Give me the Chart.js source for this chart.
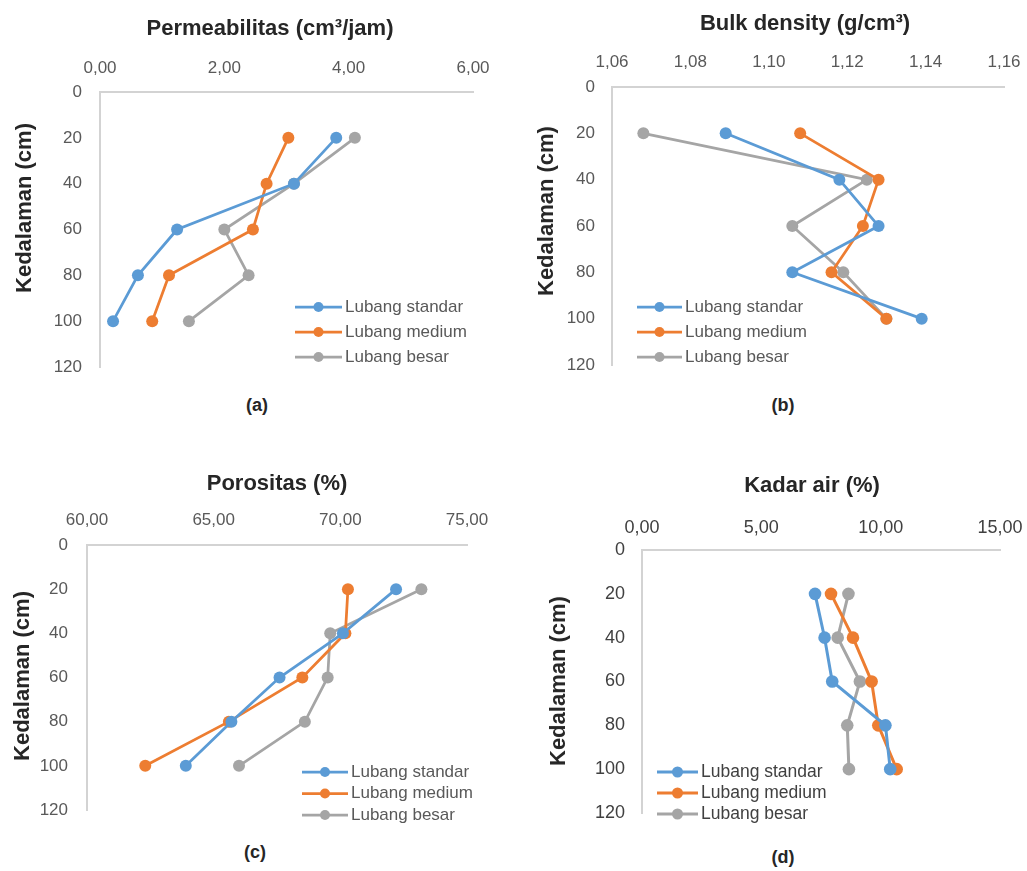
<!DOCTYPE html>
<html>
<head>
<meta charset="utf-8">
<script src="https://cdn.jsdelivr.net/npm/chart.js@4.4.1/dist/chart.umd.min.js"></script>
<style>
  body { margin: 0; background: #fff; width: 1027px; height: 871px; position: relative; overflow: hidden;
         font-family: "Liberation Sans", Arial, sans-serif; }
  canvas { position: absolute; }
  .t { position: absolute; transform: translate(-50%, -50%); white-space: nowrap; font-weight: bold; color: #262626; }
  .title { font-size: 22px; }
  .ytitle { font-size: 22px; transform: translate(-50%, -50%) rotate(-90deg); }
  .cap { font-size: 18px; }
</style>
</head>
<body>
<canvas id="ca" width="505" height="390" style="left:0;top:0"></canvas>
<canvas id="cb" width="517" height="390" style="left:510px;top:0"></canvas>
<canvas id="cc" width="505" height="395" style="left:0;top:440px"></canvas>
<canvas id="cd" width="507" height="380" style="left:520px;top:460px"></canvas>

<div class="t title" style="left:270px;top:28px">Permeabilitas (cm³/jam)</div>
<div class="t title" style="left:805px;top:23px">Bulk density (g/cm³)</div>
<div class="t title" style="left:277px;top:483px">Porositas (%)</div>
<div class="t title" style="left:812px;top:485px">Kadar air (%)</div>

<div class="t ytitle" style="left:24px;top:208px">Kedalaman (cm)</div>
<div class="t ytitle" style="left:546px;top:211px">Kedalaman (cm)</div>
<div class="t ytitle" style="left:22px;top:676px">Kedalaman (cm)</div>
<div class="t ytitle" style="left:558px;top:681px">Kedalaman (cm)</div>

<div class="t cap" style="left:257px;top:405px">(a)</div>
<div class="t cap" style="left:783px;top:405px">(b)</div>
<div class="t cap" style="left:255px;top:852px">(c)</div>
<div class="t cap" style="left:783px;top:857px">(d)</div>

<script>
// kedalaman (cm)
const depth = [20, 40, 60, 80, 100];
const seriesNames = ["Lubang standar", "Lubang medium", "Lubang besar"];
const colors = ["#5B9BD5", "#ED7D31", "#A5A5A5"];

// (a) permeabilitas
const permStandar = [3.80, 3.12, 1.24, 0.61, 0.21];
const permMedium = [3.03, 2.68, 2.46, 1.11, 0.84];
const permBesar = [4.10, 3.12, 2.00, 2.39, 1.43];

// (b) bulk density
const bulkStandar = [1.089, 1.118, 1.128, 1.106, 1.139];
const bulkMedium = [1.108, 1.128, 1.124, 1.116, 1.130];
const bulkBesar = [1.068, 1.125, 1.106, 1.119, 1.130];

// (c) porositas
const poroStandar = [72.2, 70.1, 67.6, 65.7, 63.9];
const poroMedium = [70.3, 70.2, 68.5, 65.6, 62.3];
const poroBesar = [73.2, 69.6, 69.5, 68.6, 66.0];

// (d) kadar air
const airStandar = [7.25, 7.65, 7.97, 10.2, 10.4];
const airMedium = [7.92, 8.84, 9.62, 9.9, 10.67];
const airBesar = [8.65, 8.2, 9.13, 8.6, 8.67];

Chart.defaults.font.family = '"Liberation Sans", Arial, sans-serif';

// legend drawn inside the plot area, reads labels/colours from the datasets
const insideLegend = {
    id: "insideLegend",
    afterDatasetsDraw(chart, args, opts) {
        const ctx = chart.ctx;
        ctx.save();
        ctx.font = opts.font;
        ctx.textBaseline = "middle";
        ctx.textAlign = "left";
        chart.data.datasets.forEach((ds, i) => {
            const y = opts.y + i * opts.rowH;
            ctx.strokeStyle = ds.borderColor;
            ctx.lineWidth = ds.borderWidth;
            ctx.beginPath();
            ctx.moveTo(opts.x, y);
            ctx.lineTo(opts.x + opts.len, y);
            ctx.stroke();
            ctx.fillStyle = ds.backgroundColor;
            ctx.beginPath();
            ctx.arc(opts.x + opts.len / 2, y, opts.r, 0, Math.PI * 2);
            ctx.fill();
            ctx.fillStyle = opts.color;
            ctx.fillText(ds.label, opts.x + opts.len + opts.gap, y);
        });
        ctx.restore();
    },
};

function fmt2(v) {
    return Number(v).toFixed(2).replace(".", ",");
}

function makePanel(id, p) {
    const datasets = p.series.map((vals, i) => ({
        label: seriesNames[i],
        data: depth.map((d, k) => ({ x: vals[k], y: d })),
        showLine: true,
        borderColor: colors[i],
        backgroundColor: colors[i],
        borderWidth: p.lineW,
        pointRadius: p.pointR,
        pointBorderWidth: 0,
    }));
    const tickFont = { size: p.tickSize };
    return new Chart(document.getElementById(id), {
        type: "scatter",
        data: { datasets },
        plugins: [insideLegend],
        options: {
            responsive: false,
            animation: false,
            layout: { padding: p.pad },
            plugins: {
                legend: { display: false },
                tooltip: { enabled: false },
                insideLegend: p.legend,
            },
            scales: {
                x: {
                    type: "linear",
                    position: "top",
                    min: p.xMin,
                    max: p.xMax,
                    grid: { display: false, drawTicks: false },
                    border: { color: "#d3d3d3", width: 2 },
                    ticks: {
                        stepSize: p.xStep,
                        padding: p.xPad,
                        color: p.tickColor,
                        font: tickFont,
                        callback: fmt2,
                    },
                    afterFit(scale) {
                        scale.height = p.xH;
                        scale.paddingLeft = 0;
                        scale.paddingRight = 0;
                    },
                },
                y: {
                    type: "linear",
                    position: "left",
                    reverse: true,
                    min: 0,
                    max: 120,
                    grid: { display: false, drawTicks: false },
                    border: { color: "#d3d3d3", width: 2 },
                    ticks: {
                        stepSize: 20,
                        padding: p.yPad,
                        color: p.tickColor,
                        font: tickFont,
                    },
                    afterFit(scale) {
                        scale.width = p.yW;
                        scale.paddingTop = 0;
                        scale.paddingBottom = 0;
                    },
                },
            },
        },
    });
}

makePanel("ca", {
    series: [permStandar, permMedium, permBesar],
    xMin: 0, xMax: 6, xStep: 2,
    yW: 100, xH: 92, pad: { left: 0, top: 0, right: 32, bottom: 23 },
    xPad: 13, yPad: 18, tickSize: 17, tickColor: "#595959", lineW: 2.75, pointR: 6,
    legend: { x: 295, y: 307, len: 47, gap: 3, rowH: 25, r: 5, font: '17px "Liberation Sans", Arial, sans-serif', color: "#595959" },
});

makePanel("cb", {
    series: [bulkStandar, bulkMedium, bulkBesar],
    xMin: 1.06, xMax: 1.16, xStep: 0.02,
    yW: 102, xH: 87, pad: { left: 0, top: 0, right: 23, bottom: 25 },
    xPad: 14, yPad: 17, tickSize: 17, tickColor: "#595959", lineW: 2.75, pointR: 6,
    legend: { x: 127, y: 307, len: 45, gap: 3, rowH: 25, r: 5, font: '17px "Liberation Sans", Arial, sans-serif', color: "#595959" },
});

makePanel("cc", {
    series: [poroStandar, poroMedium, poroBesar],
    xMin: 60, xMax: 75, xStep: 5,
    yW: 87, xH: 105, pad: { left: 0, top: 0, right: 38, bottom: 25 },
    xPad: 14, yPad: 19, tickSize: 17, tickColor: "#595959", lineW: 2.75, pointR: 6,
    legend: { x: 302, y: 332, len: 46, gap: 3, rowH: 21.5, r: 5, font: '17px "Liberation Sans", Arial, sans-serif', color: "#595959" },
});

makePanel("cd", {
    series: [airStandar, airMedium, airBesar],
    xMin: 0, xMax: 15, xStep: 5,
    yW: 122, xH: 90, pad: { left: 0, top: 0, right: 27, bottom: 27 },
    xPad: 11, yPad: 17, tickSize: 18, tickColor: "#404040", lineW: 3, pointR: 6.3,
    legend: { x: 137, y: 312, len: 41, gap: 3, rowH: 21, r: 5.5, font: '17.5px "Liberation Sans", Arial, sans-serif', color: "#404040" },
});
</script>
</body>
</html>
